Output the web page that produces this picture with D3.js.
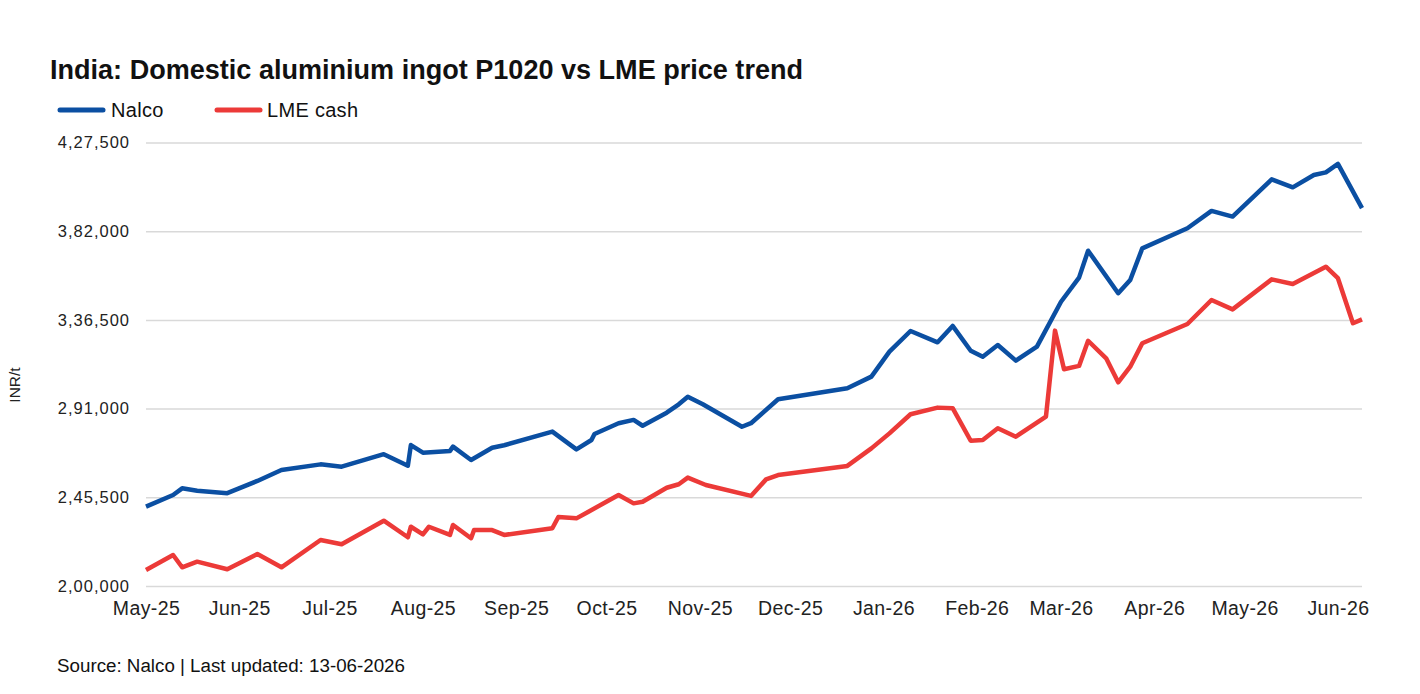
<!DOCTYPE html>
<html lang="en">
<head>
    <meta charset="UTF-8">
    <title>India aluminium price trend</title>
    <style>
        body {
            margin: 0;
            background: #fff;
        }
        svg text {
            font-family: "Liberation Sans", Arial, sans-serif;
        }
        .axis text {
            fill: #222;
        }
    </style>
</head>
<body>
    <script src="https://d3js.org/d3.v7.min.js"></script>
    <script>
        const nalcoDates = [
            '2025-05-01', '2025-05-10', '2025-05-13', '2025-05-18', '2025-05-28', '2025-06-07', '2025-06-15',
            '2025-06-28', '2025-07-05', '2025-07-19', '2025-07-27', '2025-07-28', '2025-08-01', '2025-08-10',
            '2025-08-11', '2025-08-17', '2025-08-24', '2025-08-28', '2025-09-13', '2025-09-21', '2025-09-26',
            '2025-09-27', '2025-10-05', '2025-10-10', '2025-10-13', '2025-10-21', '2025-10-25', '2025-10-28',
            '2025-11-02', '2025-11-15', '2025-11-18', '2025-11-27', '2025-12-20', '2025-12-28', '2026-01-03',
            '2026-01-10', '2026-01-19', '2026-01-24', '2026-01-30', '2026-02-03', '2026-02-08', '2026-02-14',
            '2026-02-21', '2026-03-01', '2026-03-07', '2026-03-10', '2026-03-20', '2026-03-24', '2026-03-28',
            '2026-04-12', '2026-04-20', '2026-04-27', '2026-05-10', '2026-05-17', '2026-05-24', '2026-05-28',
            '2026-06-01', '2026-06-09'
        ]
        const nalcoValues = [
            240700, 246700, 250100, 248900, 247600, 253900, 259500,
            262400, 261200, 267600, 261700, 272300, 268400, 269300,
            271500, 264600, 270900, 272200, 279200, 270100, 274900,
            278000, 283500, 285200, 282200, 288900, 293200, 297100,
            293200, 281700, 283500, 295800, 301400, 307400, 320200,
            330800, 325000, 333400, 320700, 317600, 323600, 315600,
            322800, 345800, 358200, 372000, 350200, 357000, 373200,
            383500, 392400, 389500, 408600, 404500, 410800, 412200,
            416500, 393800
        ]

        const lmeDates = [
            '2025-05-01', '2025-05-10', '2025-05-13', '2025-05-18', '2025-05-28', '2025-06-07', '2025-06-15',
            '2025-06-28', '2025-07-05', '2025-07-19', '2025-07-27', '2025-07-28', '2025-08-01', '2025-08-03',
            '2025-08-10', '2025-08-11', '2025-08-17', '2025-08-18', '2025-08-24', '2025-08-28', '2025-09-13',
            '2025-09-15', '2025-09-21', '2025-09-25', '2025-10-05', '2025-10-10', '2025-10-13', '2025-10-21',
            '2025-10-25', '2025-10-28', '2025-11-03', '2025-11-18', '2025-11-23', '2025-11-27', '2025-12-20',
            '2025-12-28', '2026-01-03', '2026-01-10', '2026-01-19', '2026-01-24', '2026-01-30', '2026-02-03',
            '2026-02-08', '2026-02-14', '2026-02-24', '2026-02-27', '2026-03-02', '2026-03-07', '2026-03-10',
            '2026-03-16', '2026-03-20', '2026-03-24', '2026-03-28', '2026-04-12', '2026-04-20', '2026-04-27',
            '2026-05-10', '2026-05-17', '2026-05-28', '2026-06-01', '2026-06-06', '2026-06-09'
        ]
        const lmeValues = [
            208200, 215900, 209600, 212500, 208600, 216400, 209600,
            223600, 221400, 233500, 225000, 230400, 226500, 230400,
            226200, 231300, 224500, 228700, 228700, 226200, 229600,
            235400, 234700, 238100, 246700, 242400, 243200, 250400,
            252200, 255600, 251800, 246200, 254700, 256900, 261600,
            270600, 278300, 288100, 291500, 291200, 274500, 274900,
            280900, 276600, 286900, 331000, 311200, 312900, 325800,
            316800, 304500, 312500, 324500, 334400, 346700, 341900,
            357300, 354900, 363800, 357900, 334800, 336800
        ]

        const yTicks = [200000, 245500, 291000, 336500, 382000, 427500]
        const seriesNames = ['Nalco', 'LME cash']
        const colors = ['#0b4fa2', '#ec3a38']

        const width = 1420
        const height = 694
        const margin = { top: 142.5, right: 58, bottom: 108, left: 146 }

        const parse = d3.timeParse('%Y-%m-%d')

        // indian digit grouping: 2,00,000
        function inr(v) {
            const s = String(Math.round(v))
            if (s.length <= 3) return s
            const last3 = s.slice(-3)
            const rest = s.slice(0, -3).replace(/\B(?=(\d{2})+(?!\d))/g, ',')
            return rest + ',' + last3
        }

        const svg = d3.select('body')
            .append('svg')
            .attr('width', width)
            .attr('height', height)

        const x = d3.scaleTime()
            .domain([parse('2025-05-01'), parse('2026-06-09')])
            .range([margin.left, width - margin.right])

        const y = d3.scaleLinear()
            .domain([200000, 427500])
            .range([height - margin.bottom, margin.top])

        // grid + y labels
        const yAxis = svg.append('g')
            .attr('class', 'axis')
            .attr('transform', `translate(${margin.left}, 0)`)
            .call(d3.axisLeft(y)
                .tickValues(yTicks)
                .tickFormat(inr)
                .tickSize(-(width - margin.left - margin.right))
                .tickPadding(16))
        yAxis.select('.domain').remove()
        yAxis.selectAll('line')
            .attr('stroke', '#d9d9d9')
            .attr('stroke-width', 1.5)
        yAxis.selectAll('text')
            .attr('font-size', 16.5)
            .attr('letter-spacing', 1)

        const xAxis = svg.append('g')
            .attr('class', 'axis')
            .attr('transform', `translate(0, ${height - margin.bottom})`)
            .call(d3.axisBottom(x)
                .ticks(d3.timeMonth.every(1))
                .tickFormat(d3.timeFormat('%b-%y'))
                .tickSize(0)
                .tickPadding(15))
        xAxis.select('.domain').remove()
        xAxis.selectAll('text')
            .attr('font-size', 19.5)
            .attr('letter-spacing', 0.4)

        svg.append('text')
            .attr('transform', 'translate(20, 385) rotate(-90)')
            .attr('text-anchor', 'middle')
            .attr('font-size', 15.5)
            .attr('fill', '#222')
            .text('INR/t')

        const line = d3.line()
            .x(d => x(d.date))
            .y(d => y(d.value))

        const series = [
            nalcoDates.map((d, i) => ({ date: parse(d), value: nalcoValues[i] })),
            lmeDates.map((d, i) => ({ date: parse(d), value: lmeValues[i] }))
        ]

        // red drawn first so blue sits on top
        ;[1, 0].forEach(i => {
            svg.append('path')
                .datum(series[i])
                .attr('fill', 'none')
                .attr('stroke', colors[i])
                .attr('stroke-width', 4.5)
                .attr('stroke-linejoin', 'round')
                .attr('d', line)
        })

        // title
        svg.append('text')
            .attr('x', 50)
            .attr('y', 78.5)
            .attr('font-weight', 'bold')
            .attr('font-size', 27)
            .attr('textLength', 753)
            .attr('lengthAdjust', 'spacingAndGlyphs')
            .attr('fill', '#111')
            .text('India: Domestic aluminium ingot P1020 vs LME price trend')

        // legend
        const legendX = [60, 217]
        const legend = svg.selectAll('.legend')
            .data(seriesNames)
            .enter()
            .append('g')
            .attr('class', 'legend')
            .attr('transform', (_, i) => `translate(${legendX[i]}, 110)`)
        legend.append('line')
            .attr('x1', 0)
            .attr('x2', 43)
            .attr('stroke', (_, i) => colors[i])
            .attr('stroke-width', 5)
            .attr('stroke-linecap', 'round')
        legend.append('text')
            .attr('x', (_, i) => i === 0 ? 51 : 50)
            .attr('y', 6.5)
            .attr('font-size', 20)
            .attr('letter-spacing', 0.3)
            .attr('fill', '#111')
            .text(d => d)

        svg.append('text')
            .attr('x', 57)
            .attr('y', 671.5)
            .attr('font-size', 18)
            .attr('textLength', 348)
            .attr('lengthAdjust', 'spacingAndGlyphs')
            .attr('fill', '#111')
            .text('Source: Nalco | Last updated: 13-06-2026')
    </script>
</body>
</html>
